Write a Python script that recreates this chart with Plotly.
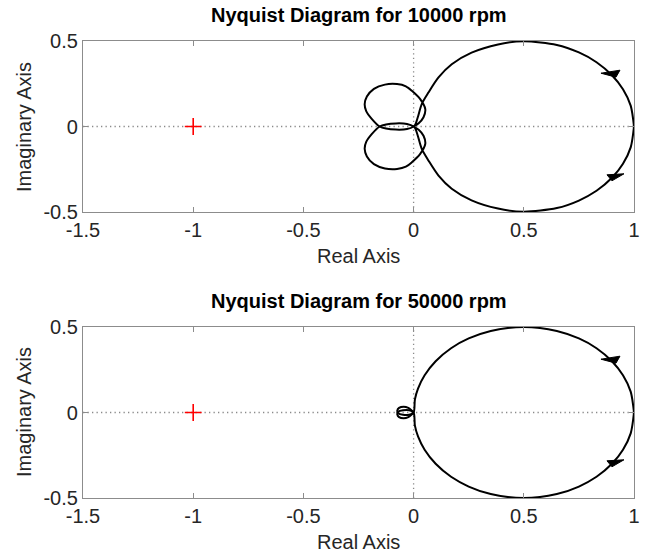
import plotly.graph_objects as go

# ---------------- data ----------------
# 10000 rpm, upper branch
x1_up = [1.0, 0.985, 0.95, 0.9, 0.83, 0.75, 0.65, 0.5, 0.383, 0.263, 0.173, 0.113, 0.068, 0.037,
         0.019, 0.008, 0.0, -0.03, -0.08, -0.125, -0.154, -0.19, -0.215, -0.222, -0.212, -0.18,
         -0.13, -0.075, -0.035, -0.008, 0.03, 0.053, 0.045, 0.023, 0.0]
y1_up = [0.0, 0.122, 0.218, 0.3, 0.376, 0.433, 0.477, 0.498, 0.48, 0.432, 0.364, 0.287, 0.2, 0.131,
         0.054, 0.012, 0.0, -0.015, -0.018, -0.012, 0.0, 0.045, 0.09, 0.13, 0.175, 0.22,
         0.245, 0.248, 0.235, 0.209, 0.16, 0.102, 0.054, 0.019, 0.0]
# 10000 rpm, lower branch
x1_lo = [1.0, 0.985, 0.95, 0.9, 0.83, 0.75, 0.65, 0.5, 0.383, 0.263, 0.173, 0.113, 0.068, 0.037,
         0.019, 0.008, 0.0, -0.03, -0.08, -0.125, -0.154, -0.19, -0.215, -0.222, -0.212, -0.18,
         -0.13, -0.075, -0.035, -0.008, 0.03, 0.053, 0.045, 0.023, 0.0]
y1_lo = [0.0, -0.122, -0.218, -0.3, -0.376, -0.433, -0.477, -0.498, -0.48, -0.432, -0.364, -0.287, -0.2, -0.131,
         -0.054, -0.012, 0.0, 0.015, 0.018, 0.012, 0.0, -0.045, -0.09, -0.13, -0.175, -0.22,
         -0.245, -0.248, -0.235, -0.209, -0.16, -0.102, -0.054, -0.019, 0.0]

# 50000 rpm, upper branch
x2_up = [1.0, 0.985, 0.95, 0.9, 0.83, 0.75, 0.65, 0.5, 0.35, 0.25, 0.17, 0.1, 0.05, 0.02, 0.006, 0.0,
         -0.02, -0.048, -0.07, -0.074, -0.066, -0.045, -0.024, -0.01, 0.0]
y2_up = [0.0, 0.122, 0.218, 0.3, 0.376, 0.433, 0.477, 0.5, 0.477, 0.433, 0.376, 0.3, 0.218, 0.14, 0.077, 0.0,
         -0.013, -0.013, -0.004, 0.011, 0.027, 0.034, 0.027, 0.013, 0.0]
# 50000 rpm, lower branch
x2_lo = [1.0, 0.985, 0.95, 0.9, 0.83, 0.75, 0.65, 0.5, 0.35, 0.25, 0.17, 0.1, 0.05, 0.02, 0.006, 0.0,
         -0.02, -0.048, -0.07, -0.074, -0.066, -0.045, -0.024, -0.01, 0.0]
y2_lo = [0.0, -0.122, -0.218, -0.3, -0.376, -0.433, -0.477, -0.5, -0.477, -0.433, -0.376, -0.3, -0.218, -0.14, -0.077, 0.0,
         0.013, 0.013, 0.004, -0.011, -0.027, -0.034, -0.027, -0.013, 0.0]

arrow_x = [0.9, 0.9]
arrow_y = [0.3, -0.3]
critical_x = [-1]
critical_y = [0]

titles = ["Nyquist Diagram for 10000 rpm", "Nyquist Diagram for 50000 rpm"]
x_tickvals = [-1.5, -1, -0.5, 0, 0.5, 1]
x_ticktext = ["-1.5", "-1", "-0.5", "0", "0.5", "1"]
y_tickvals = [-0.5, 0, 0.5]
y_ticktext = ["-0.5", "0", "0.5"]

# ---------------- figure ----------------
FONT = "Liberation Sans, Arial, Helvetica, sans-serif"
TXT = "#262626"
AX = "#8c8c8c"
FS = 20

fig = go.Figure()
curves = [((x1_up, y1_up), (x1_lo, y1_lo)), ((x2_up, y2_up), (x2_lo, y2_lo))]
for i, (up, lo) in enumerate(curves):
    xa = "x" if i == 0 else "x2"
    ya = "y" if i == 0 else "y2"
    for (xs, ys) in (up, lo):
        fig.add_trace(go.Scatter(x=xs, y=ys, mode="lines", xaxis=xa, yaxis=ya,
                                 line=dict(color="black", width=2, shape="spline", smoothing=0.8),
                                 hoverinfo="skip", showlegend=False))
    fig.add_trace(go.Scatter(x=critical_x, y=critical_y, mode="markers", xaxis=xa, yaxis=ya,
                             marker=dict(symbol="cross-thin", size=12, line=dict(color="red", width=1.6)),
                             showlegend=False))

axis_common = dict(showline=True, mirror="ticks", linecolor=AX, linewidth=1.2,
                   ticks="inside", ticklen=5, tickcolor=AX, showgrid=False, zeroline=False,
                   tickfont=dict(family=FONT, size=FS, color=TXT))

top_dom = [(498 - 212) / 457, 1.0]
bot_dom = [0.0, (498 - 327) / 457]

fig.update_layout(
    width=659, height=557,
    margin=dict(l=83, r=25, t=41, b=59),
    paper_bgcolor="white", plot_bgcolor="white",
    xaxis=dict(range=[-1.5, 1], tickvals=x_tickvals, ticktext=x_ticktext, anchor="y", **axis_common),
    yaxis=dict(range=[-0.5, 0.5], tickvals=y_tickvals, ticktext=y_ticktext, domain=top_dom, anchor="x", **axis_common),
    xaxis2=dict(range=[-1.5, 1], tickvals=x_tickvals, ticktext=x_ticktext, anchor="y2", **axis_common),
    yaxis2=dict(range=[-0.5, 0.5], tickvals=y_tickvals, ticktext=y_ticktext, domain=bot_dom, anchor="x2", **axis_common),
)

# dotted zero lines
for xr, yr in (("x", "y"), ("x2", "y2")):
    fig.add_shape(type="line", xref=xr + " domain", yref=yr, x0=0, x1=1, y0=0, y1=0,
                  line=dict(color="#8a8a8a", width=1.3, dash="1.3px,3.2px"), layer="below")
    fig.add_shape(type="line", xref=xr, yref=yr + " domain", x0=0, x1=0, y0=0, y1=1,
                  line=dict(color="#8a8a8a", width=1.3, dash="1.3px,3.2px"), layer="below")

# direction arrows: flat wedges anchored on the curve (pixel-sized)
wedge_paths = ["M -11 2 L 8 5 L 4 -2 Z", "M 12 4 L -5 3 L 0 -3 Z"]
for xr, yr in (("x", "y"), ("x2", "y2")):
    for k in range(len(arrow_x)):
        fig.add_shape(type="path", xref=xr, yref=yr, xsizemode="pixel", ysizemode="pixel",
                      xanchor=arrow_x[k], yanchor=arrow_y[k], path=wedge_paths[k],
                      fillcolor="black", line=dict(color="black", width=1))

def py(px):
    return (498 - px) / 457

ann = []
ann.append(dict(text="<b>" + titles[0] + "</b>", x=0.5, y=py(15)))
ann.append(dict(text="<b>" + titles[1] + "</b>", x=0.5, y=py(301)))
ann.append(dict(text="Real Axis", x=(358 - 83) / 551, y=py(256)))
ann.append(dict(text="Real Axis", x=(358 - 83) / 551, y=py(542)))
for a in ann:
    fig.add_annotation(xref="paper", yref="paper", showarrow=False, xanchor="center", yanchor="middle",
                       font=dict(family=FONT, size=FS, color="black" if "Nyquist" in a["text"] else TXT), **a)
for yc in (127, 412):
    fig.add_annotation(xref="paper", yref="paper", showarrow=False, x=(24 - 83) / 551, y=py(yc),
                       xanchor="center", yanchor="middle", textangle=-90, text="Imaginary Axis",
                       font=dict(family=FONT, size=FS, color=TXT))

fig.write_html("out.html")
